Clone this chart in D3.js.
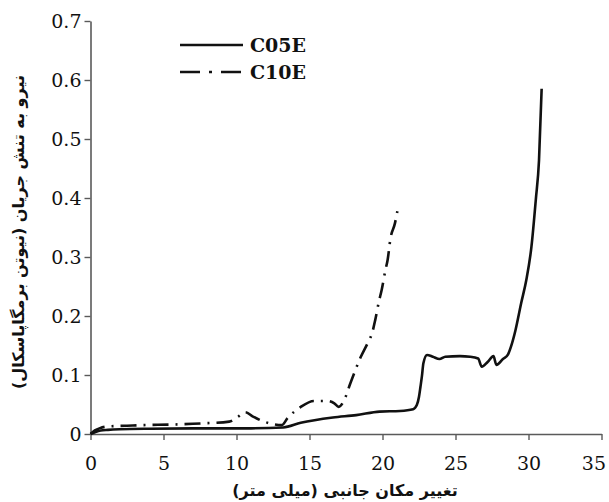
<!DOCTYPE html>
<html><head><meta charset="utf-8">
<script src="https://cdn.jsdelivr.net/npm/d3@7"></script>
<style>body{margin:0;background:#fff}svg{display:block}</style>
</head><body>
<svg id="c" width="609" height="502"></svg>
<script>
const xTicks = [0,5,10,15,20,25,30,35];
const yTicks = [0,0.1,0.2,0.3,0.4,0.5,0.6,0.7];
const seriesNames = ["C05E","C10E"];
const c05x = [0,0.3,0.7,1.2,2,4,7,11,13.2,14.4,16.6,18.2,19.8,21.2,22.1,22.35,22.5,22.6,22.7,22.8,23.05,23.45,23.9,24.3,25.3,26,26.55,26.8,27.2,27.6,27.8,28.25,28.6,28.8,29.1,29.5,29.85,30.2,30.5,30.72,30.9];
const c05y = [0,0.003,0.006,0.007,0.008,0.009,0.0095,0.0096,0.011,0.019,0.028,0.032,0.038,0.039,0.042,0.049,0.063,0.08,0.098,0.12,0.134,0.131,0.127,0.131,0.132,0.131,0.128,0.114,0.122,0.132,0.117,0.127,0.135,0.148,0.175,0.222,0.261,0.317,0.397,0.464,0.585];
const c10x = [0,0.3,0.65,1.3,2.5,3.5,5.5,7.7,9.5,10.1,10.6,11.1,12,13.1,13.5,14.4,15.3,16.2,16.7,17.0,17.35,17.8,18.5,19.0,19.3,19.5,19.75,19.95,20.2,20.35,20.55,20.85,21.1];
const c10y = [0,0.006,0.01,0.013,0.014,0.015,0.016,0.018,0.021,0.029,0.037,0.03,0.02,0.015,0.027,0.046,0.056,0.056,0.052,0.046,0.056,0.086,0.13,0.155,0.172,0.193,0.224,0.245,0.278,0.295,0.332,0.357,0.389];
const xLabel = "تغییر مکان جانبی (میلی متر)";
const yLabel = "نیرو به تنش جریان (نیوتن برمگاپاسکال)";

const svg = d3.select("#c");
const x = d3.scaleLinear().domain([0,35]).range([90.5,601.5]);
const y = d3.scaleLinear().domain([0,0.7]).range([434,21]);
const axisColor = "#5a5a5a";
const tickFont = "'DejaVu Serif', serif";

const gx = svg.append("g").attr("transform","translate(0,434)")
  .call(d3.axisBottom(x).tickValues(xTicks).tickSize(6).tickSizeOuter(0).tickFormat(d3.format("d")));
const gy = svg.append("g").attr("transform","translate(90.5,0)")
  .call(d3.axisLeft(y).tickValues(yTicks).tickSize(6).tickSizeOuter(0).tickFormat(d => d===0 ? "0" : d3.format(".1f")(d)));
[gx,gy].forEach(g => {
  g.select(".domain").attr("stroke",axisColor).attr("stroke-width",1.6);
  g.selectAll(".tick line").attr("stroke",axisColor).attr("stroke-width",1.4);
  g.selectAll(".tick text").attr("fill","#111").style("font-family",tickFont).style("font-size","19px");
});
gx.selectAll(".tick text").attr("dy","0").attr("y",36);
// keep the last label inside the chart area (as the reference does)
gx.selectAll(".tick text").filter(d => d === 35).attr("text-anchor","end").attr("x",4);
gy.selectAll(".tick text").attr("x",-9).attr("dy","0.35em");

const line = d3.line().x(d=>x(d[0])).y(d=>y(d[1])).curve(d3.curveMonotoneX);
const d05 = c05x.map((v,i)=>[v,c05y[i]]);
const d10 = c10x.map((v,i)=>[v,c10y[i]]);
svg.append("path").attr("d",line(d05)).attr("fill","none").attr("stroke","#111").attr("stroke-width",2.6).attr("stroke-linejoin","round");
svg.append("path").attr("d",line(d10)).attr("fill","none").attr("stroke","#111").attr("stroke-width",2.6).attr("stroke-dasharray","16,7,2,7");

// legend
const leg = svg.append("g");
const legY = [45,72];
const dashes = [null,"20,9,3,9"];
seriesNames.forEach((n,i)=>{
  leg.append("line").attr("x1",180).attr("x2",243).attr("y1",legY[i]).attr("y2",legY[i])
    .attr("stroke","#111").attr("stroke-width",2.6).attr("stroke-dasharray",dashes[i]);
  leg.append("text").attr("x",250).attr("y",legY[i]).attr("dy","0.35em").text(n)
    .style("font-family",tickFont).style("font-weight","bold").style("font-size","19px").attr("fill","#111");
});

svg.append("text").attr("x",345).attr("y",496).attr("text-anchor","middle").attr("direction","rtl")
  .style("font-family","'DejaVu Sans', sans-serif").style("font-weight","bold").style("font-size","16px").attr("fill","#111").text(xLabel);
svg.append("text").attr("transform","translate(24,232) rotate(-90)").attr("text-anchor","middle").attr("direction","rtl")
  .style("font-family","'DejaVu Sans', sans-serif").style("font-weight","bold").style("font-size","16px").attr("fill","#111").text(yLabel);
</script>
</body></html>
